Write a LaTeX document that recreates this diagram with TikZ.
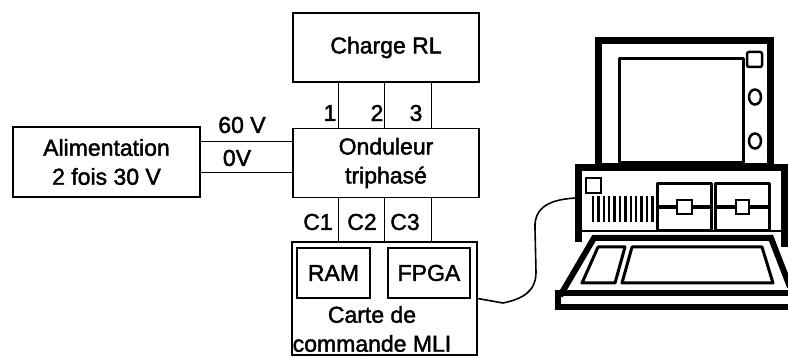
\documentclass[tikz,border=0pt]{standalone}
\usepackage{fontspec}
\setmainfont{Liberation Sans}
\newfontfamily\lblfont[FakeBold=1.8]{Liberation Sans}
\usetikzlibrary{calc}
\begin{document}
\begin{tikzpicture}[x=1pt,y=-1pt,
  txt/.style={font=\lblfont\fontsize{23}{29}\selectfont, inner sep=0pt, align=center},
  blk/.style={draw, line width=1.4pt, rectangle, inner sep=0pt, txt},
  chip/.style={draw, line width=2.2pt, rectangle, inner sep=0pt, txt},
  wire/.style={line width=1.4pt},
  heavy/.style={line width=7pt, line join=miter},
  mid/.style={line width=3pt, line join=round}]
\useasboundingbox (0,0) rectangle (788,358);
\clip (0,0) rectangle (788,358);

% --- blocks ---
\node[blk, minimum width=187pt, minimum height=70pt] (alim) at (106.5,162) {Alimentation\\2 fois 30 V};
\node[blk, minimum width=186pt, minimum height=69pt] (charge) at (386,47.5) {Charge RL};
\node[blk, minimum width=186pt, minimum height=69pt] (ond) at (386,163) {Onduleur\\triphasé};
\node[blk, minimum width=185pt, minimum height=113pt] (carte) at (384.5,298.5) {};
\node[chip, minimum width=73pt, minimum height=50pt] (ram) at (333.5,273) {RAM};
\node[chip, minimum width=82pt, minimum height=50pt] (fpga) at (429,273) {FPGA};
\node[txt] (cartetxt) at (372,329) {Carte de\\commande MLI};

% --- supply lines ---
\coordinate (s1) at ($(alim.north east)+(0,15)$);
\coordinate (s2) at ($(alim.north east)+(0,46)$);
\draw[wire] (s1) -- (s1 -| ond.west);
\draw[wire] (s2) -- (s2 -| ond.west);
\node[txt] (l60) at (242,125) {60 V};
\node[txt] (l0) at (237,158) {0V};

% --- three phases to the load and the control lines ---
\foreach \i/\dx in {1/46, 2/92, 3/139} {
  \coordinate (p\i) at ($(charge.south west)+(\dx,0)$);
  \draw[wire] (p\i) -- (p\i |- ond.north);
  \coordinate (c\i) at ($(ond.south west)+(\dx,0)$);
  \draw[wire] (c\i) -- (c\i |- carte.north);
}
\node[txt] (n1) at (330,113) {1};
\node[txt] (n2) at (377,113) {2};
\node[txt] (n3) at (416,113) {3};
\node[txt] (nc1) at (318,222) {C1};
\node[txt] (nc2) at (362,222) {C2};
\node[txt] (nc3) at (405,222) {C3};

% --- computer: monitor ---
\draw[heavy] (598.5,41) rectangle (770.5,167);
\draw[mid] (619,59) rectangle (743,163);
\draw[line width=2.5pt, rounded corners=2pt] (747,52) rectangle (762,67);
\draw[line width=2.5pt] (755,97) ellipse (6 and 7.5);
\draw[line width=2.5pt] (755,141) ellipse (6 and 7.5);

% --- computer: system unit ---
\draw[heavy] (578.5,242) -- (578.5,168) -- (795,168);
\draw[heavy] (784.5,168) -- (784.5,247);
\draw[line width=2pt] (582,231) -- (781,231);
\draw[line width=2.5pt] (586,178) rectangle (601,193);
\foreach \k in {0,...,11}
  \draw[line width=2.4pt] ({593+\k*5.4},196) -- ({593+\k*5.4},222);
\draw[mid] (657,184) rectangle (711,231);
\draw[mid] (715,184) rectangle (769,231);
\draw[line width=4pt] (657,207) -- (711,207);
\draw[line width=4pt] (715,207) -- (769,207);
\filldraw[fill=white, line width=2.5pt] (677,200) rectangle (692,214);
\filldraw[fill=white, line width=2.5pt] (736,200) rectangle (749,214);

% --- computer: keyboard ---
\draw[line width=6pt, line join=miter] (560,296) -- (594,238) -- (771,238) -- (790,287);
\draw[line width=6pt] (558,293) rectangle (800,307);
\draw[line width=2pt] (562,293) -- (795,293);
\draw[mid] (598,247) -- (625,247) -- (615,283) -- (582,283) -- cycle;
\draw[mid] (632,247) -- (762,247) -- (773,283) -- (622,283) -- cycle;

% --- cable from the control board to the computer ---
\coordinate (pc) at (577,198);
\draw[line width=1.6pt] (carte.east) -- (503,303)
  .. controls (522,299) and (536,292) .. (536,272)
  -- (535,228)
  .. controls (534,206) and (552,199) .. (pc);
\end{tikzpicture}
\end{document}
